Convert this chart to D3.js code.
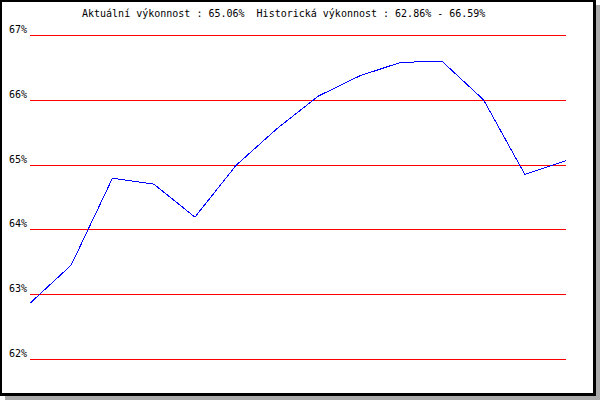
<!DOCTYPE html>
<html>
<head>
<meta charset="utf-8">
<script src="https://cdn.jsdelivr.net/npm/d3@7"></script>
<style>
  body { margin: 0; background: #fff; }
  text { font-family: "DejaVu Sans Mono", monospace; font-size: 10px; fill: #000; }
</style>
</head>
<body>
<div id="chart"></div>
<script>
// data
const currentPerf = 65.06;
const histRange = [62.86, 66.59];
const yTicks = [62, 63, 64, 65, 66, 67];
const values = [62.86, 63.45, 64.79, 64.70, 64.19, 64.99, 65.56, 66.06,
                66.37, 66.58, 66.59, 66.00, 64.85, 65.06];

const W = 600, H = 400;
const gridColor = '#ff0000';
const lineColor = '#0000ff';

const svg = d3.select('#chart').append('svg')
    .attr('width', W)
    .attr('height', H);

// frame with drop shadow
svg.append('rect')
    .attr('x', 5).attr('y', 5)
    .attr('width', 595).attr('height', 395)
    .attr('fill', '#aaaaaa');
svg.append('rect')
    .attr('x', 0).attr('y', 0)
    .attr('width', 596).attr('height', 396)
    .attr('fill', '#000');
svg.append('rect')
    .attr('x', 2).attr('y', 2)
    .attr('width', 591).attr('height', 391)
    .attr('fill', '#fff');

const x = d3.scaleLinear()
    .domain([0, values.length - 1])
    .range([30, 566]);

const y = d3.scaleLinear()
    .domain([62, 67])
    .range([359, 35]);

// title
svg.append('text')
    .attr('x', 82)
    .attr('y', 17)
    .attr('xml:space', 'preserve')
    .text(`Aktuální výkonnost : ${currentPerf.toFixed(2)}%  Historická výkonnost : ${histRange[0].toFixed(2)}% - ${histRange[1].toFixed(2)}%`);

// grid lines + labels
const grid = svg.append('g');
yTicks.forEach(t => {
    const yy = Math.round(y(t)) + 0.5;
    grid.append('line')
        .attr('x1', x.range()[0])
        .attr('x2', x.range()[1])
        .attr('y1', yy)
        .attr('y2', yy)
        .attr('stroke', gridColor)
        .attr('stroke-width', 1)
        .attr('shape-rendering', 'crispEdges');
    grid.append('text')
        .attr('x', 9)
        .attr('y', Math.round(y(t)) - 2)
        .text(`${t}%`);
});

// performance line
const line = d3.line()
    .x((d, i) => x(i))
    .y(d => y(d));

svg.append('path')
    .datum(values)
    .attr('d', line)
    .attr('fill', 'none')
    .attr('stroke', lineColor)
    .attr('stroke-width', 1)
    .attr('shape-rendering', 'crispEdges');
</script>
</body>
</html>
